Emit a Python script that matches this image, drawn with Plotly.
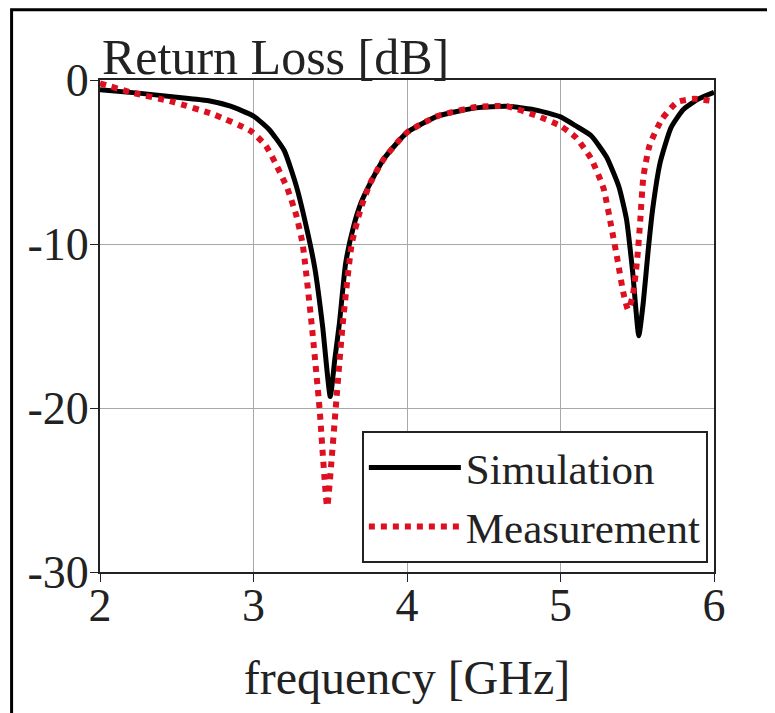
import plotly.graph_objects as go

# Simulation (black solid)
sim_freq = [2.0, 2.25, 2.5, 2.7, 2.85, 3.0, 3.1, 3.2, 3.28, 3.35, 3.4, 3.45, 3.5,
            3.53, 3.56, 3.6, 3.65, 3.7, 3.76, 3.85, 4.0, 4.2, 4.45, 4.65, 4.85,
            5.0, 5.1, 5.2, 5.3, 5.38, 5.43, 5.47, 5.51, 5.54, 5.57, 5.6, 5.65,
            5.72, 5.8, 5.9, 6.0]
sim_rl = [-0.6, -0.8, -1.05, -1.25, -1.6, -2.2, -3.0, -4.3, -6.5, -9.2, -11.5, -15.0, -19.3,
          -17.0, -14.8, -11.2, -9.0, -7.5, -6.3, -4.8, -3.2, -2.2, -1.7, -1.6, -1.85,
          -2.25, -2.8, -3.4, -4.7, -6.5, -8.5, -11.7, -15.6, -13.5, -10.5, -7.9, -5.0,
          -2.9, -1.8, -1.15, -0.75]

# Measurement (red dotted)
meas_freq = [2.0, 2.2, 2.48, 2.74, 2.98, 3.08, 3.15, 3.22, 3.28, 3.32, 3.38, 3.43, 3.48,
             3.51, 3.54, 3.58, 3.64, 3.7, 3.76, 3.85, 4.0, 4.2, 4.45, 4.65, 4.85,
             5.0, 5.1, 5.2, 5.28, 5.33, 5.37, 5.41, 5.44, 5.47, 5.5, 5.52, 5.54,
             5.58, 5.66, 5.76, 5.87, 6.0]
meas_rl = [-0.2, -0.75, -1.35, -2.1, -3.1, -4.0, -5.2, -6.6, -8.3, -10.0, -15.0, -20.0, -26.0,
           -23.0, -19.5, -15.0, -10.0, -7.8, -6.3, -4.8, -3.2, -2.2, -1.65, -1.6, -2.2,
           -2.8, -3.5, -4.8, -6.6, -8.9, -10.9, -13.0, -14.0, -13.2, -10.9, -8.5, -5.9,
           -4.0, -2.4, -1.35, -1.15, -1.3]

x_ticks = [2, 3, 4, 5, 6]
y_ticks = [0, -10, -20, -30]
y_tick_text = ["0", "-10", "-20", "-30"]

FONT = "Liberation Serif"
INK = "#222"

fig = go.Figure()
fig.add_trace(go.Scatter(x=sim_freq, y=sim_rl, mode="lines", name="Simulation",
                         line=dict(color="black", width=5, shape="spline", smoothing=0.5)))
fig.add_trace(go.Scatter(x=meas_freq, y=meas_rl, mode="lines", name="Measurement",
                         line=dict(color="#dc1020", width=6, dash="dot", shape="spline", smoothing=0.5)))

fig.update_layout(
    width=767, height=705,
    margin=dict(l=92, r=61, t=72, b=141),
    paper_bgcolor="white", plot_bgcolor="white",
    font=dict(family=FONT, size=46, color=INK),
    showlegend=True,
    legend=dict(x=0.99, y=0.018, xanchor="right", yanchor="bottom",
                bgcolor="white", bordercolor=INK, borderwidth=2,
                font=dict(family=FONT, size=43, color=INK),
                tracegroupgap=0, itemwidth=92),
    xaxis=dict(range=[2, 6], tickvals=x_ticks, ticktext=[str(v) for v in x_ticks],
               showgrid=True, gridcolor="#a8a8a8", gridwidth=1,
               showline=True, linecolor=INK, linewidth=2, mirror=True,
               ticks="outside", ticklen=8, tickcolor=INK,
               tickfont=dict(family=FONT, size=46), ticklabelstandoff=-16,
               title=dict(text="frequency [GHz]", font=dict(family=FONT, size=48), standoff=30),
               zeroline=False),
    yaxis=dict(range=[-30, 0], tickvals=y_ticks, ticktext=y_tick_text,
               showgrid=True, gridcolor="#a8a8a8", gridwidth=1,
               showline=True, linecolor=INK, linewidth=2, mirror=True,
               ticks="outside", ticklen=8, tickcolor=INK,
               tickfont=dict(family=FONT, size=46), ticklabelstandoff=-8,
               zeroline=False),
    annotations=[dict(text="Return Loss [dB]", xref="paper", yref="paper", x=0.0, y=1.0,
                      xanchor="left", yanchor="bottom", showarrow=False, yshift=-7,
                      font=dict(family=FONT, size=50, color=INK))],
    shapes=[dict(type="rect", xref="paper", yref="paper",
                 x0=-0.144, x1=1.3, y0=-0.4, y1=1.143,
                 line=dict(color="black", width=3), layer="below")],
)

fig.write_html("out.html")
